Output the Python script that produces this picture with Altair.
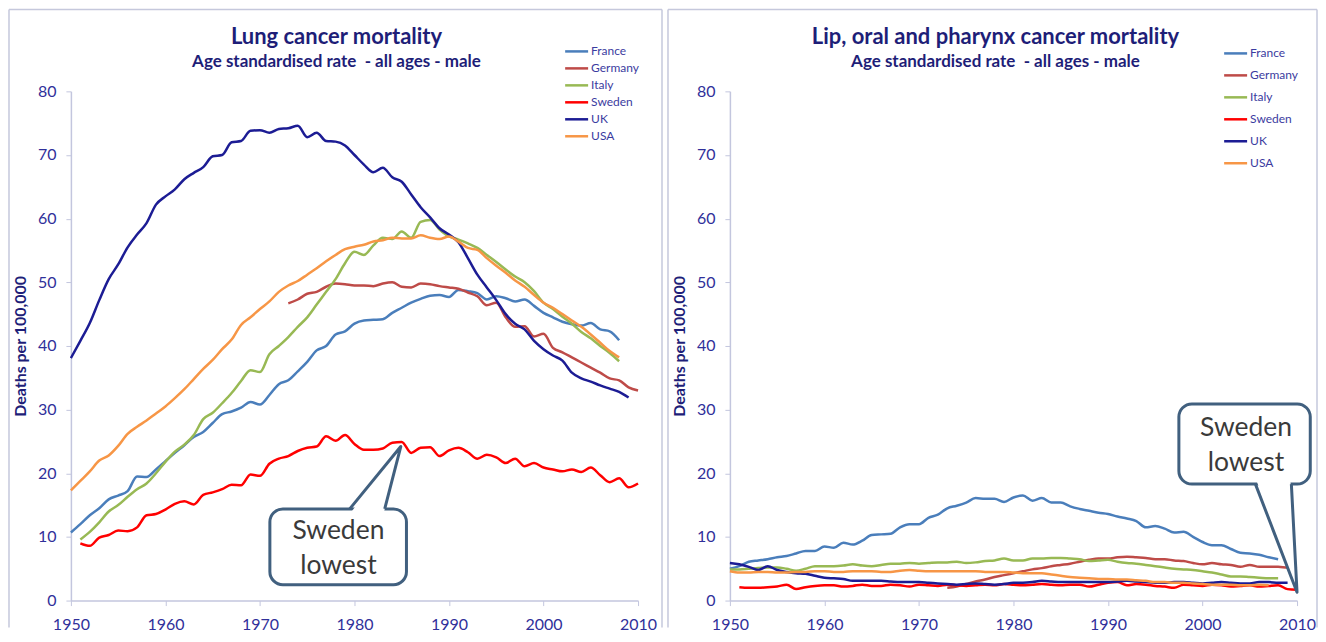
import altair as alt
import pandas as pd

COUNTRIES = ["France", "Germany", "Italy", "Sweden", "UK", "USA"]
COLORS = ["#4a7ebb", "#be4b48", "#98b954", "#ff0000", "#1c1c94", "#f79646"]
X_TICKS = [1950, 1960, 1970, 1980, 1990, 2000, 2010]
Y_TICKS = [0, 10, 20, 30, 40, 50, 60, 70, 80]

# ---------------- Lung cancer mortality (start year + yearly values) -------------
LUNG_FRANCE_START = 1950
LUNG_FRANCE = [10.7, 12.0, 13.4, 14.5, 15.9, 16.5, 17.2, 19.5, 19.4, 20.6,
               21.9, 23.2, 24.4, 25.7, 26.5, 27.9, 29.3, 29.7, 30.3, 31.2,
               30.8, 32.3, 34.0, 34.6, 36.0, 37.5, 39.3, 40.0, 41.8, 42.3,
               43.5, 44.0, 44.1, 44.2, 45.2, 46.0, 46.8, 47.4, 47.9, 48.0,
               47.7, 48.8, 48.6, 48.3, 47.3, 47.8, 47.5, 47.0, 47.3, 46.3,
               45.2, 44.5, 43.8, 43.4, 43.2, 43.6, 42.6, 42.3, 40.9]
LUNG_GERMANY_START = 1973
LUNG_GERMANY = [46.7, 47.3, 48.2, 48.5, 49.3, 49.8, 49.7, 49.5, 49.5, 49.4,
                49.8, 50.0, 49.3, 49.2, 49.8, 49.7, 49.4, 49.2, 49.0, 48.4,
                47.8, 46.4, 46.8, 44.5, 43.0, 43.1, 41.5, 41.9, 39.7, 39.0,
                38.2, 37.4, 36.6, 35.8, 34.9, 34.6, 33.5, 33.0]
LUNG_ITALY_START = 1951
LUNG_ITALY = [9.6, 10.8, 12.3, 14.0, 15.0, 16.3, 17.5, 18.4, 20.0,
              21.8, 23.4, 24.5, 26.0, 28.5, 29.5, 31.0, 32.6, 34.5, 36.2,
              35.9, 38.7, 40.0, 41.4, 43.0, 44.5, 46.5, 48.5, 50.5, 53.0,
              54.8, 54.3, 55.8, 57.0, 56.8, 58.0, 57.0, 59.5, 59.8, 58.3,
              57.2, 56.7, 56.1, 55.4, 54.3, 53.2, 52.0, 50.9, 50.0, 48.6,
              46.8, 45.8, 44.6, 43.5, 42.2, 41.2, 40.0, 38.9, 37.6]
LUNG_SWEDEN_START = 1951
LUNG_SWEDEN = [9.0, 8.6, 9.9, 10.3, 11.0, 10.9, 11.5, 13.4, 13.6,
               14.3, 15.2, 15.6, 15.1, 16.6, 17.0, 17.5, 18.2, 18.1, 19.8,
               19.6, 21.5, 22.3, 22.7, 23.5, 24.0, 24.2, 25.8, 25.1, 26.0,
               24.6, 23.7, 23.7, 23.9, 24.8, 24.9, 23.2, 24.0, 24.1, 22.7,
               23.6, 24.0, 23.3, 22.3, 22.9, 22.5, 21.6, 22.3, 21.1, 21.6,
               20.9, 20.6, 20.3, 20.6, 20.2, 20.9, 19.7, 18.6, 19.2, 17.8,
               18.4]
LUNG_UK_START = 1950
LUNG_UK = [38.1, 40.8, 43.6, 47.2, 50.5, 52.8, 55.5, 57.5, 59.3, 62.2,
           63.5, 64.6, 66.2, 67.2, 68.1, 69.8, 70.0, 72.0, 72.2, 73.8,
           73.9, 73.5, 74.1, 74.2, 74.6, 72.8, 73.5, 72.2, 72.1, 71.5,
           70.0, 68.5, 67.3, 68.0, 66.5, 65.8, 63.8, 61.8, 60.2, 58.5,
           57.5, 56.3, 53.8, 51.2, 49.2, 47.2, 45.0, 43.5, 42.6, 40.8,
           39.5, 38.5, 37.7, 35.8, 34.9, 34.4, 33.8, 33.3, 32.8, 31.9]
LUNG_USA_START = 1950
LUNG_USA = [17.3, 18.8, 20.3, 22.0, 22.8, 24.3, 26.2, 27.3, 28.3, 29.4,
            30.5, 31.8, 33.2, 34.8, 36.4, 37.8, 39.5, 41.0, 43.3, 44.5,
            45.8, 47.0, 48.5, 49.5, 50.2, 51.2, 52.2, 53.3, 54.3, 55.2,
            55.6, 55.9, 56.4, 56.6, 57.0, 56.9, 56.9, 57.4, 57.0, 56.8,
            57.2, 56.4, 55.4, 55.1, 53.8, 52.6, 51.5, 50.3, 49.3, 48.0,
            46.8, 46.0, 45.0, 44.0, 43.0, 41.8, 40.5, 39.2, 38.2]

# ------------- Lip, oral and pharynx cancer mortality --------------------------
LOP_FRANCE_START = 1950
LOP_FRANCE = [5.0, 5.4, 6.1, 6.3, 6.5, 6.8, 7.0, 7.4, 7.8, 7.8,
              8.5, 8.3, 9.1, 8.8, 9.4, 10.3, 10.4, 10.5, 11.5, 12.0,
              12.0, 13.0, 13.5, 14.5, 14.9, 15.4, 16.1, 16.0, 16.0, 15.5,
              16.2, 16.5, 15.7, 16.1, 15.4, 15.4, 14.8, 14.4, 14.1, 13.8,
              13.6, 13.2, 12.9, 12.5, 11.5, 11.7, 11.3, 10.7, 10.8, 10.0,
              9.2, 8.7, 8.7, 8.1, 7.5, 7.4, 7.2, 6.8, 6.5]
LOP_GERMANY_START = 1973
LOP_GERMANY = [2.0, 2.2, 2.6, 3.0, 3.3, 3.7, 4.0, 4.3, 4.6, 4.9,
               5.1, 5.4, 5.6, 5.8, 6.1, 6.4, 6.6, 6.6, 6.8, 6.9,
               6.8, 6.7, 6.5, 6.5, 6.3, 6.2, 5.9, 5.7, 5.9, 5.7,
               5.6, 5.3, 5.6, 5.3, 5.3, 5.3, 5.2, 5.2]
LOP_ITALY_START = 1950
LOP_ITALY = [4.9, 4.9, 5.0, 5.1, 5.2, 5.2, 5.0, 4.7, 5.0, 5.4,
             5.4, 5.4, 5.5, 5.7, 5.5, 5.4, 5.6, 5.8, 5.8, 5.9,
             5.8, 5.9, 6.0, 6.0, 6.1, 5.9, 6.0, 6.2, 6.3, 6.6,
             6.3, 6.3, 6.6, 6.6, 6.7, 6.7, 6.6, 6.5, 6.2, 6.3,
             6.4, 6.1, 5.9, 5.8, 5.6, 5.4, 5.2, 5.0, 4.9, 4.8,
             4.6, 4.4, 4.1, 3.8, 3.8, 3.7, 3.6, 3.5, 3.5]
LOP_SWEDEN_START = 1951
LOP_SWEDEN = [2.1, 2.0, 2.0, 2.1, 2.2, 2.5, 1.8, 2.1, 2.3,
              2.4, 2.4, 2.2, 2.3, 2.5, 2.3, 2.3, 2.5, 2.4, 2.2,
              2.5, 2.4, 2.3, 2.5, 2.4, 2.3, 2.4, 2.5, 2.4, 2.6,
              2.5, 2.4, 2.5, 2.6, 2.5, 2.4, 2.5, 2.5, 2.2, 2.5,
              2.8, 2.9, 2.4, 2.6, 2.5, 2.3, 2.2, 2.0, 2.5, 2.4,
              2.3, 2.5, 2.4, 2.2, 2.3, 2.4, 2.2, 2.3, 2.4, 1.8,
              1.7]
LOP_UK_START = 1950
LOP_UK = [5.9, 5.7, 5.3, 4.8, 5.4, 4.8, 4.5, 4.3, 4.2, 3.9,
          3.6, 3.5, 3.4, 3.1, 3.1, 3.1, 3.1, 3.0, 2.9, 2.9,
          2.9, 2.8, 2.7, 2.6, 2.5, 2.6, 2.7, 2.6, 2.5, 2.6,
          2.8, 2.8, 2.9, 3.1, 3.0, 2.9, 2.9, 2.9, 2.9, 2.9,
          2.9, 3.0, 3.1, 3.0, 2.9, 2.8, 2.8, 2.9, 2.9, 2.8,
          2.7, 2.8, 2.9, 2.8, 2.7, 2.7, 2.9, 2.9, 2.8, 2.8]
LOP_USA_START = 1950
LOP_USA = [4.6, 4.4, 4.4, 4.5, 4.5, 4.4, 4.4, 4.5, 4.5, 4.6,
           4.6, 4.5, 4.5, 4.6, 4.6, 4.6, 4.5, 4.5, 4.7, 4.8,
           4.7, 4.6, 4.6, 4.6, 4.6, 4.6, 4.6, 4.5, 4.5, 4.5,
           4.4, 4.3, 4.3, 4.3, 4.1, 3.9, 3.7, 3.6, 3.5, 3.4,
           3.4, 3.3, 3.3, 3.2, 3.1, 2.9, 2.9, 2.8, 2.8, 2.7,
           2.6, 2.5, 2.5, 2.5, 2.4, 2.4, 2.5, 2.4]

# ------------- Annotation ("Sweden lowest") callouts, in data units -------------
LEFT_BOX = dict(x0=1971.05, x1=1985.5, y0=2.5, y1=14.4)
LEFT_TAIL = dict(bx0=1979.5, bx1=1983.2, by=14.4, tx=1984.9, ty=24.2)
LEFT_TEXT = dict(cx=1978.3, lines=["Sweden", "lowest"], ys=[10.9, 5.4])
RIGHT_BOX = dict(x0=1997.5, x1=2011.4, y0=18.3, y1=30.9)
RIGHT_TAIL = dict(bx0=2005.6, bx1=2009.4, by=18.3, tx=2010.0, ty=1.3)
RIGHT_TEXT = dict(cx=2004.6, lines=["Sweden", "lowest"], ys=[27.1, 21.6])

SUBTITLE = "Age standardised rate\u00a0\u00a0- all ages - male"

FONT = "Lato"
TITLE_COLOR = "#1e1e78"
LABEL_COLOR = "#30309a"
AXIS_COLOR = "#c3c6de"
FRAME_COLOR = "#c5c8dc"
CALLOUT_COLOR = "#41607f"


def build_df(parts):
    rows = []
    for name, start, vals in parts:
        for i, v in enumerate(vals):
            rows.append({"country": name, "year": start + i, "value": v})
    return pd.DataFrame(rows)


LUNG_DF = build_df([
    ("France", LUNG_FRANCE_START, LUNG_FRANCE),
    ("Germany", LUNG_GERMANY_START, LUNG_GERMANY),
    ("Italy", LUNG_ITALY_START, LUNG_ITALY),
    ("Sweden", LUNG_SWEDEN_START, LUNG_SWEDEN),
    ("UK", LUNG_UK_START, LUNG_UK),
    ("USA", LUNG_USA_START, LUNG_USA),
])
LOP_DF = build_df([
    ("France", LOP_FRANCE_START, LOP_FRANCE),
    ("Germany", LOP_GERMANY_START, LOP_GERMANY),
    ("Italy", LOP_ITALY_START, LOP_ITALY),
    ("Sweden", LOP_SWEDEN_START, LOP_SWEDEN),
    ("UK", LOP_UK_START, LOP_UK),
    ("USA", LOP_USA_START, LOP_USA),
])

ONE = pd.DataFrame({"k": [0]})


def panel(df, title, legend_range, box, tail, ctext, frame_right, tail_up):
    xs = alt.Scale(domain=[1950, 2010], nice=False, zero=False)
    ys = alt.Scale(domain=[0, 80], nice=False)
    x_axis = alt.Axis(values=X_TICKS, format="d", title=None, grid=False,
                      domainColor=AXIS_COLOR, tickColor=AXIS_COLOR, tickSize=5,
                      domainWidth=1.5, labelPadding=11, labelFontSize=16,
                      labelColor=LABEL_COLOR, labelFont=FONT, labelFlush=False)
    y_axis = alt.Axis(values=Y_TICKS, title="Deaths per 100,000", grid=False,
                      domainColor=AXIS_COLOR, tickColor=AXIS_COLOR, tickSize=5,
                      domainWidth=1.5, labelPadding=10, labelFontSize=16,
                      labelColor=LABEL_COLOR, labelFont=FONT,
                      titleFont=FONT, titleFontSize=16, titleFontWeight="bold",
                      titleColor=TITLE_COLOR, titlePadding=9)
    color = alt.Color("country:N", scale=alt.Scale(domain=COUNTRIES, range=COLORS), legend=None)

    lines = alt.Chart(df).mark_line(strokeWidth=2.5, interpolate="monotone").encode(
        x=alt.X("year:Q", scale=xs, axis=x_axis),
        y=alt.Y("value:Q", scale=ys, axis=y_axis),
        color=color,
    )

    box_df = pd.DataFrame([box])
    box_mark = alt.Chart(box_df).mark_rect(
        cornerRadius=13, fill="white", stroke=CALLOUT_COLOR, strokeWidth=3
    ).encode(
        x=alt.X("x0:Q", scale=xs), x2="x1:Q",
        y=alt.Y("y0:Q", scale=ys), y2="y1:Q",
    )
    inset = 0.6 if tail_up else -0.6
    tail_area_df = pd.DataFrame({
        "ty": [tail["by"] - inset, tail["ty"]],
        "xa": [tail["bx0"] + 0.1, tail["tx"]],
        "xb": [tail["bx1"] - 0.1, tail["tx"]],
    })
    tail_area = alt.Chart(tail_area_df).mark_area(
        orient="horizontal", fill="white", opacity=1
    ).encode(
        y=alt.Y("ty:Q", scale=ys), x=alt.X("xa:Q", scale=xs), x2="xb:Q",
    )
    tail_line_df = pd.DataFrame({
        "o": [0, 1, 2],
        "lx": [tail["bx0"], tail["tx"], tail["bx1"]],
        "ly": [tail["by"], tail["ty"], tail["by"]],
    })
    tail_line = alt.Chart(tail_line_df).mark_line(
        color=CALLOUT_COLOR, strokeWidth=3, strokeJoin="round"
    ).encode(
        x=alt.X("lx:Q", scale=xs), y=alt.Y("ly:Q", scale=ys), order="o:Q",
    )
    text_df = pd.DataFrame({
        "cx": [ctext["cx"]] * len(ctext["lines"]),
        "cy": ctext["ys"],
        "t": ctext["lines"],
    })
    callout_text = alt.Chart(text_df).mark_text(
        font=FONT, fontSize=26.5, color="#3a3a3a", baseline="middle", align="center"
    ).encode(
        x=alt.X("cx:Q", scale=xs), y=alt.Y("cy:Q", scale=ys), text="t:N",
    )

    main = alt.layer(lines, box_mark, tail_area, tail_line, callout_text)

    # legend drawn from the country list
    leg_df = pd.DataFrame({"country": COUNTRIES})
    leg_y = alt.Y("country:N", scale=alt.Scale(type="point", domain=COUNTRIES,
                                               range=legend_range, padding=0), axis=None)
    leg_rule = alt.Chart(leg_df).mark_rule(strokeWidth=2.5).encode(
        x=alt.value(495), x2=alt.value(518), y=leg_y, color=color)
    leg_text = alt.Chart(leg_df).mark_text(
        align="left", baseline="middle", font=FONT, fontSize=12, color="#3b3ba0"
    ).encode(x=alt.value(521), y=leg_y, text="country:N")

    # titles
    t1 = alt.Chart(ONE).mark_text(
        font=FONT, fontSize=22, fontWeight="bold", color=TITLE_COLOR, align="center",
        baseline="middle").encode(x=alt.value(266), y=alt.value(-54), text=alt.value(title))
    t2 = alt.Chart(ONE).mark_text(
        font=FONT, fontSize=17, fontWeight="bold", color=TITLE_COLOR, align="center",
        baseline="middle").encode(x=alt.value(266), y=alt.value(-29), text=alt.value(SUBTITLE))

    # panel frame (top, left, right)
    fl = alt.Chart(ONE).mark_rule(color=FRAME_COLOR, strokeWidth=1.5).encode(
        x=alt.value(-62), y=alt.value(-82), y2=alt.value(537))
    fr = alt.Chart(ONE).mark_rule(color=FRAME_COLOR, strokeWidth=1.5).encode(
        x=alt.value(frame_right), y=alt.value(-82), y2=alt.value(537))
    ft = alt.Chart(ONE).mark_rule(color=FRAME_COLOR, strokeWidth=1.5).encode(
        x=alt.value(-62), x2=alt.value(frame_right), y=alt.value(-82))

    deco = alt.layer(leg_rule, leg_text, t1, t2, fl, fr, ft)
    return alt.layer(main, deco).resolve_scale(y="independent").properties(width=568, height=510)


left = panel(LUNG_DF, "Lung cancer mortality", [-40, 45], LEFT_BOX, LEFT_TAIL, LEFT_TEXT,
             592, True)
right = panel(LOP_DF, "Lip, oral and pharynx cancer mortality", [-38, 72], RIGHT_BOX,
              RIGHT_TAIL, RIGHT_TEXT, 588, False)

chart = alt.hconcat(left, right, spacing=4).properties(
    padding=0, background="white"
).configure_view(stroke=None)

chart.save("out.html", embed_options={"renderer": "svg", "actions": False})
